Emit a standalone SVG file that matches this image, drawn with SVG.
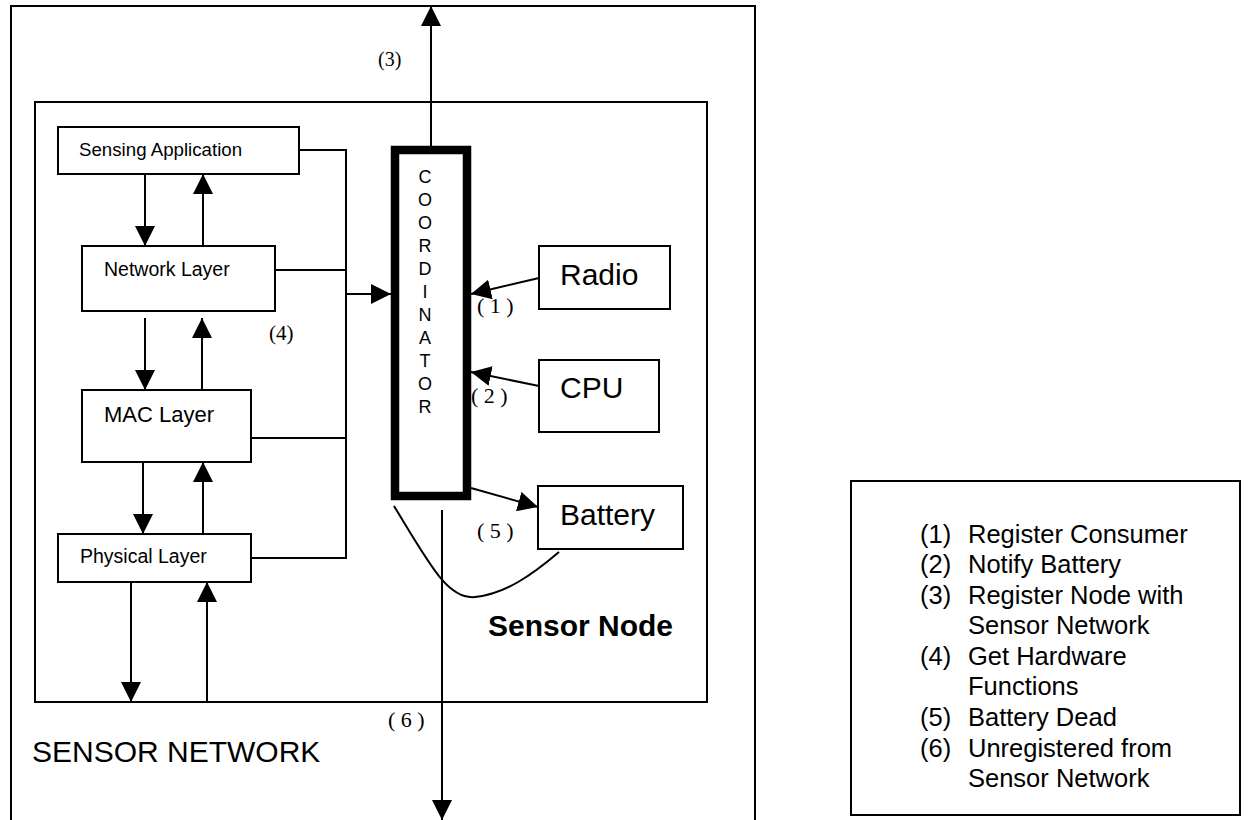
<svg xmlns="http://www.w3.org/2000/svg" width="1257" height="820" viewBox="0 0 1257 820">
<style>
.box{fill:#fff;stroke:#000;stroke-width:2}
.frame{fill:none;stroke:#000;stroke-width:2}
.ln{fill:none;stroke:#000;stroke-width:2}
.arr{fill:none;stroke:#000;stroke-width:2;marker-end:url(#ah)}
.sans{font-family:"Liberation Sans",Arial,sans-serif;fill:#000}
.serif{font-family:"Liberation Serif","Times New Roman",serif;fill:#000}
.coord{font-family:"Liberation Sans",Arial,sans-serif;font-size:18px;fill:#000;text-anchor:middle}
</style>
<defs>
<marker id="ah" viewBox="0 0 20 20" refX="20" refY="10" markerWidth="20" markerHeight="20" markerUnits="userSpaceOnUse" orient="auto">
<path d="M0,0 L20,10 L0,20 z" fill="#000"/>
</marker>
</defs>
<rect width="1257" height="820" fill="#fff"/>

<g id="sensor-network">
<rect class="frame" x="11" y="6" width="744" height="830"/>
<text class="sans" x="32" y="762" font-size="30">SENSOR NETWORK</text>
</g>

<g id="sensor-node">
<rect class="frame" x="35" y="102" width="672" height="600"/>
<text class="sans" x="488" y="636" font-size="30" font-weight="bold">Sensor Node</text>
</g>

<g id="sensing-application">
<rect class="box" x="58" y="127" width="241" height="47"/>
<text class="sans" x="79" y="156" font-size="18.7">Sensing Application</text>
</g>

<g id="network-layer">
<rect class="box" x="82" y="246" width="193" height="65"/>
<text class="sans" x="104" y="276" font-size="19.5">Network Layer</text>
</g>

<g id="mac-layer">
<rect class="box" x="82" y="390" width="169" height="72"/>
<text class="sans" x="104" y="422" font-size="22">MAC Layer</text>
</g>

<g id="physical-layer">
<rect class="box" x="58" y="534" width="193" height="48"/>
<text class="sans" x="80" y="563" font-size="19.5">Physical Layer</text>
</g>

<g id="coordinator">
<rect x="395" y="150" width="72" height="346" fill="#fff" stroke="#000" stroke-width="8.5"/>
<text class="coord" x="425" y="183">C</text>
<text class="coord" x="425" y="206">O</text>
<text class="coord" x="425" y="229">O</text>
<text class="coord" x="425" y="252">R</text>
<text class="coord" x="425" y="275">D</text>
<text class="coord" x="425" y="298">I</text>
<text class="coord" x="425" y="321">N</text>
<text class="coord" x="425" y="344">A</text>
<text class="coord" x="425" y="367">T</text>
<text class="coord" x="425" y="390">O</text>
<text class="coord" x="425" y="413">R</text>
</g>

<g id="radio">
<rect class="box" x="539" y="246" width="131" height="63"/>
<text class="sans" x="560" y="285" font-size="30">Radio</text>
</g>

<g id="cpu">
<rect class="box" x="539" y="360" width="120" height="72"/>
<text class="sans" x="560" y="398" font-size="30">CPU</text>
</g>

<g id="battery">
<rect class="box" x="538" y="486" width="145" height="63"/>
<text class="sans" x="560" y="525" font-size="30">Battery</text>
</g>

<g id="legend">
<rect class="frame" x="851" y="481" width="389" height="334"/>
<g class="sans" font-size="25.5">
<text x="920" y="543">(1)</text><text x="968" y="543">Register Consumer</text>
<text x="920" y="573">(2)</text><text x="968" y="573">Notify Battery</text>
<text x="920" y="604">(3)</text><text x="968" y="604">Register Node with</text>
<text x="968" y="634">Sensor Network</text>
<text x="920" y="665">(4)</text><text x="968" y="665">Get Hardware</text>
<text x="968" y="695">Functions</text>
<text x="920" y="726">(5)</text><text x="968" y="726">Battery Dead</text>
<text x="920" y="757">(6)</text><text x="968" y="757">Unregistered from</text>
<text x="968" y="787">Sensor Network</text>
</g>
</g>

<g id="connectors">
<line class="arr" x1="145" y1="174" x2="145" y2="246"/>
<line class="arr" x1="203" y1="246" x2="203" y2="174"/>
<line class="arr" x1="145" y1="318" x2="145" y2="390"/>
<line class="arr" x1="202" y1="390" x2="202" y2="318"/>
<line class="arr" x1="143" y1="462" x2="143" y2="534"/>
<line class="arr" x1="203" y1="534" x2="203" y2="462"/>
<line class="arr" x1="131" y1="582" x2="131" y2="702"/>
<line class="arr" x1="207" y1="702" x2="207" y2="582"/>
<polyline class="ln" points="299,150 346,150 346,558 251,558"/>
<line class="ln" x1="275" y1="270" x2="346" y2="270"/>
<line class="ln" x1="251" y1="438" x2="346" y2="438"/>
<line class="arr" x1="346" y1="294" x2="391" y2="294"/>
<line class="arr" x1="431" y1="146" x2="431" y2="6"/>
<line class="arr" x1="539" y1="278" x2="471" y2="294"/>
<line class="arr" x1="539" y1="386" x2="471" y2="372"/>
<line class="arr" x1="471" y1="488" x2="538" y2="507"/>
<path class="ln" stroke-width="1.5" d="M394,506 C430,565 448,600 475,597 C505,594 532,575 559,552"/>
<line class="arr" x1="442" y1="510" x2="442" y2="820"/>
</g>

<g id="labels" class="serif">
<text x="378" y="66" font-size="20">(3)</text>
<text x="269" y="340" font-size="21">(4)</text>
<text x="477" y="313" font-size="22">( 1 )</text>
<text x="471" y="403" font-size="22">( 2 )</text>
<text x="477" y="538" font-size="22">( 5 )</text>
<text x="388" y="727" font-size="22">( 6 )</text>
</g>
</svg>
